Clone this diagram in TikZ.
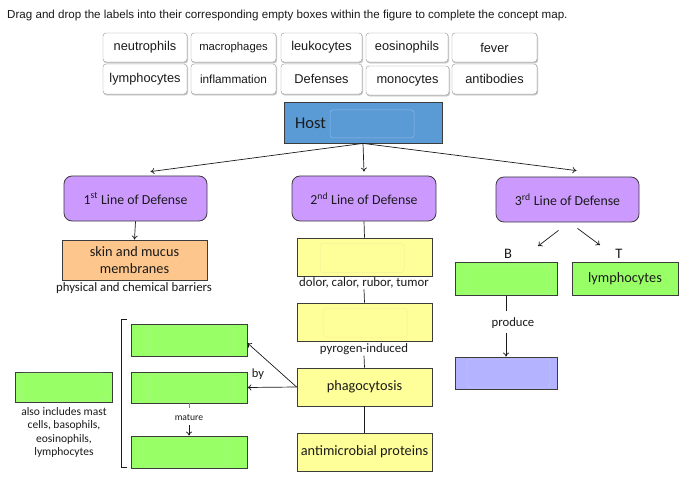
\documentclass[tikz,border=0pt]{standalone}
\usepackage{fontspec}
\setmainfont{Carlito}
\newfontfamily\arialf{Liberation Sans}
\usetikzlibrary{arrows.meta,calc}
\definecolor{hostblue}{HTML}{5B9BD5}
\definecolor{hostinner}{HTML}{8DB8E6}
\definecolor{lilac}{HTML}{CC99FF}
\definecolor{peach}{HTML}{FDC68C}
\definecolor{paleyellow}{HTML}{FFFF99}
\definecolor{yinner}{HTML}{F0F0A0}
\definecolor{lgreen}{HTML}{99FF66}
\definecolor{ginner}{HTML}{B0F090}
\definecolor{lav}{HTML}{B3B3FF}
\definecolor{ink}{HTML}{1A1A1A}
\newcommand{\fsz}[1]{\fontsize{#1}{#1}\selectfont}
\tikzset{
  tile/.style={draw=gray!85, rounded corners=3pt, fill=white, inner sep=0pt,
    text=ink, font=\arialf\fsz{12.8}, minimum height=29pt,
    preaction={draw=gray!45, fill=gray!45, transform canvas={xshift=0.8pt,yshift=-1.2pt}}},
  boxline/.style={draw=ink!85, line width=0.8pt, inner sep=0pt, text=ink},
  lod/.style={boxline, rounded corners=8pt, fill=lilac, minimum width=143pt,
    minimum height=45pt, font=\fsz{13.8}},
  ybox/.style={boxline, fill=paleyellow, minimum width=135pt, minimum height=38pt, font=\fsz{14.3}},
  gbox/.style={boxline, fill=lgreen, minimum width=116pt, minimum height=31pt, font=\fsz{14.3}},
  faint/.style={draw=#1, rounded corners=3pt, line width=0.5pt},
  captxt/.style={text=ink, font=\fsz{12.8}, inner sep=0pt},
  conn/.style={draw=ink, line width=0.7pt},
  arr/.style={conn, -{To[length=4pt,width=6pt]}},
}
\begin{document}
\begin{tikzpicture}[x=1pt,y=-1pt]
\useasboundingbox[fill=white] (0,0) rectangle (700,494);
% instruction
\node[anchor=west, inner sep=0pt, text=ink, font=\arialf\fsz{11.6}] (instr) at (7,16)
  {Drag and drop the labels into their corresponding empty boxes within the figure to complete the concept map.};
% tiles
\node[tile, minimum width=84pt] (t1) at (145,47.5) {neutrophils};
\node[tile, minimum width=85pt, font=\arialf\fsz{11.3}] (t2) at (233.5,47.5) {macrophages};
\node[tile, minimum width=81pt] (t3) at (321.5,47.5) {leukocytes};
\node[tile, minimum width=82pt] (t4) at (407,47.5) {eosinophils};
\node[tile, minimum width=85pt, text depth=-2pt] (t5) at (494.5,47.5) {fever};
\node[tile, minimum width=84pt, minimum height=30pt] (t6) at (145,79) {lymphocytes};
\node[tile, minimum width=85pt, minimum height=30pt, font=\arialf\fsz{11.8}] (t7) at (233.5,79) {inflammation};
\node[tile, minimum width=81pt, minimum height=30pt] (t8) at (321.5,79) {Defenses};
\node[tile, minimum width=83pt, minimum height=29pt] (t9) at (407.5,80.5) {monocytes};
\node[tile, minimum width=85pt, minimum height=30pt] (t10) at (494.5,79) {antibodies};
% host
\node[boxline, fill=hostblue, minimum width=158pt, minimum height=41pt] (host) at (363,122.5) {};
\draw[faint=hostinner] (330,110) rectangle (414,138);
\node[anchor=west, inner sep=0pt, text=ink, font=\fsz{16.5}] (hostlbl) at (295,123) {Host};
% lines of defense
\node[lod] (first) at (135.5,198.5) {1\textsuperscript{st} Line of Defense};
\node[lod, minimum width=144pt] (second) at (364,198.5) {2\textsuperscript{nd} Line of Defense};
\node[lod] (third) at (567.5,199.5) {3\textsuperscript{rd} Line of Defense};
\draw[arr] (host.south) -- ([xshift=15pt,yshift=4pt]first.north);
\draw[arr] (host.south) -- ([yshift=4pt]second.north);
\draw[arr] (host.south) -- ([xshift=9pt,yshift=6pt]third.north);
% first line
\node[boxline, fill=peach, minimum width=145pt, minimum height=40pt, font=\fsz{14.3},
  align=center] (skin) at (134.5,260) {skin and mucus\\[2.5pt]membranes};
\draw[arr] (first.south) -- (skin.north);
\node[captxt] (phys) at (134,288) {physical and chemical barriers};
% second line
\node[ybox] (infl) at (364.5,257) {};
\draw[faint=yinner] (320,243.5) rectangle (404,272.5);
\node[captxt] (dolor) at (364,283) {dolor, calor, rubor, tumor};
\node[ybox] (fev) at (364.5,322) {};
\draw[faint=yinner] (323,308) rectangle (407,337);
\node[captxt] (pyro) at (364,349) {pyrogen-induced};
\node[ybox] (phago) at (364.5,387) {phagocytosis};
\node[ybox] (anti) at (364.5,452) {antimicrobial proteins};
\draw[conn] (second.south) -- (infl.north);
\draw[conn] ([yshift=-1pt]dolor.south) -- (fev.north);
\draw[conn] ([yshift=-1pt]pyro.south) -- (phago.north);
\draw[conn] (phago.south) -- (anti.north);
% leukocyte group
\node[gbox, minimum height=32pt] (gA) at (189,340) {};
\draw[faint=ginner] (148,326) rectangle (232,354);
\node[gbox] (gB) at (189,387.5) {};
\draw[faint=ginner] (148,374) rectangle (232,401);
\node[gbox, minimum height=32pt] (gC) at (189,452) {};
\draw[faint=ginner] (143,438) rectangle (227,466);
\draw[conn] (127,319) -- (121,319) -- (121,467) -- (127,467);
\draw[arr] (phago.west) -- ([yshift=-3pt]gA.east);
\draw[arr] (phago.west) -- (gB.east);
\node[text=ink, font=\fsz{12.5}, inner sep=0pt] (by) at (258,374) {by};
\node[text=ink, font=\fsz{9.6}, inner sep=0pt] (mat) at (189,417) {mature};
\draw[conn, draw=gray] (gB.south) -- ++(0,5);
\draw[arr] ([yshift=-5pt]mat.south) -- (gC.north);
% left box
\node[gbox, minimum width=97pt, minimum height=30pt] (gL) at (63.5,387) {};
\draw[faint=ginner] (20,373) rectangle (105,401);
\node[captxt, align=center, font=\fsz{11.5}] (also) at (64,432.5)
  {also includes mast\\[2pt]cells, basophils,\\[2pt]eosinophils,\\[2pt]lymphocytes};
% third line
\node[text=ink, font=\fsz{14.5}, inner sep=0pt] (Blbl) at (508,254) {B};
\node[text=ink, font=\fsz{14.5}, inner sep=0pt] (Tlbl) at (619,254) {T};
\draw[arr] ([xshift=-9pt,yshift=-8pt]third.south) -- ([xshift=30pt,yshift=3pt]Blbl.north);
\draw[arr] ([xshift=10pt,yshift=-6pt]third.south) -- ([xshift=-19pt,yshift=4pt]Tlbl.north);
\node[gbox, minimum width=102pt, minimum height=33pt] (bcell) at (506,279) {};
\draw[faint=ginner] (467,265) rectangle (550,293);
\node[gbox, minimum width=106pt, minimum height=33pt] (tcell) at (625,279) {lymphocytes};
\node[text=ink, font=\fsz{12.7}, inner sep=0pt] (prod) at (513,323) {produce};
\node[boxline, fill=lav, minimum width=102pt, minimum height=32pt] (ab) at (506,373) {};
\draw[faint=lav!80!white] (467,359) rectangle (550,387);
\draw[conn] (bcell.south) -- ++(0,15);
\draw[arr] ([xshift=-7pt,yshift=-4pt]prod.south) -- (ab.north);
\end{tikzpicture}
\end{document}
